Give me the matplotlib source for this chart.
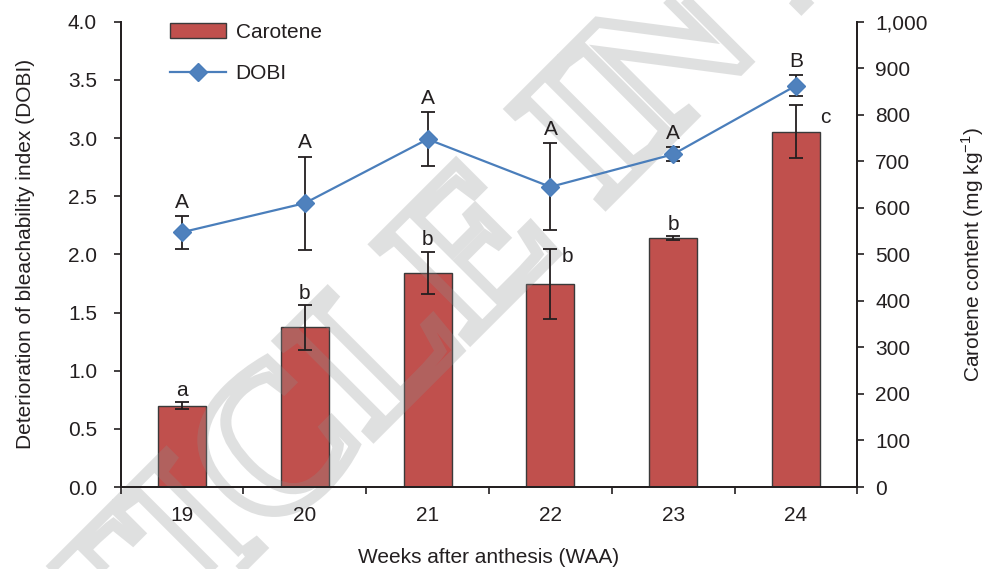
import matplotlib
matplotlib.use("Agg")
import matplotlib.pyplot as plt
import matplotlib.transforms as mtransforms
from matplotlib.textpath import TextPath
from matplotlib.font_manager import FontProperties
from matplotlib.patches import PathPatch
from matplotlib.ticker import FuncFormatter
import numpy as np

plt.rcParams['font.family'] = ['Liberation Sans', 'DejaVu Sans']
plt.rcParams['mathtext.fontset'] = 'custom'
plt.rcParams['mathtext.rm'] = 'Liberation Sans'
plt.rcParams['font.size'] = 15

# data
weeks = ['19', '20', '21', '22', '23', '24']
carotene = [175, 343, 460, 436, 535, 763]
carotene_err = [8, 48, 46, 75, 4, 57]
carotene_letters = ['a', 'b', 'b', 'b', 'b', 'c']
dobi = [2.19, 2.44, 2.99, 2.58, 2.86, 3.45]
dobi_err = [0.14, 0.40, 0.23, 0.375, 0.06, 0.093]
dobi_letters = ['A', 'A', 'A', 'A', 'A', 'B']

dark = '#231f20'
bar_col = '#c0504d'
line_col = '#4a7ebb'

fig = plt.figure(figsize=(9.87, 5.69), dpi=100)
ax = fig.add_axes([0.1223, 0.1441, 0.7463, 0.8178])   # DOBI (left axis)
ax2 = ax.twinx()                                       # carotene (right axis)
ax.set_zorder(ax2.get_zorder() + 1)
ax.patch.set_visible(False)

x = np.arange(len(weeks))

bars = ax2.bar(x, carotene, width=0.39, color=bar_col, edgecolor='#3a3a3a',
               linewidth=1.0, zorder=2, label='Carotene')
ax2.errorbar(x, carotene, yerr=carotene_err, fmt='none', ecolor=dark,
             elinewidth=1.3, capsize=5, capthick=1.3, zorder=6)

ax.errorbar(x, dobi, yerr=dobi_err, fmt='none', ecolor=dark,
            elinewidth=1.3, capsize=5, capthick=1.3, zorder=3)
line, = ax.plot(x, dobi, color=line_col, lw=1.6, marker='D', markersize=9.5,
                markerfacecolor='#4f81bd', markeredgecolor='#4a7ebb',
                zorder=4, label='DOBI')

# significance letters
for i in range(len(weeks)):
    ax.annotate(dobi_letters[i], (x[i], dobi[i] + dobi_err[i]),
                xytext=(0, 6), textcoords='offset points',
                ha='center', va='baseline', color=dark, fontsize=15)
for i in range(len(weeks)):
    top = carotene[i] + carotene_err[i]
    if i == 3:
        off = (12, -9)
    elif i == 5:
        off = (21, -13)
    else:
        off = (0, 4.5)
    ax2.annotate(carotene_letters[i], (x[i], top), xytext=off,
                 textcoords='offset points', ha='center', va='baseline',
                 color=dark, fontsize=15, zorder=7)

ax.set_xlim(-0.5, len(weeks) - 0.5)
ax.set_ylim(0, 4)
ax2.set_ylim(0, 1000)
ax.set_yticks(np.arange(0, 4.01, 0.5))
ax.yaxis.set_major_formatter(FuncFormatter(lambda v, p: '%.1f' % v))
ax2.set_yticks(np.arange(0, 1001, 100))
ax2.yaxis.set_major_formatter(FuncFormatter(lambda v, p: '{:,}'.format(int(v))))

ax.set_xticks(np.arange(-0.5, len(weeks), 1.0))
ax.set_xticklabels([])
ax.set_xticks(x, minor=True)
ax.set_xticklabels(weeks, minor=True)
ax.tick_params(axis='x', which='major', direction='out', length=5, width=1.2,
               color=dark)
ax.tick_params(axis='x', which='minor', length=0, pad=14, labelcolor=dark,
               labelsize=15)
ax.tick_params(axis='y', direction='out', length=5, width=1.2, pad=12,
               color=dark, labelcolor=dark, labelsize=15)
ax2.tick_params(axis='y', direction='out', length=5, width=1.2, pad=8,
                color=dark, labelcolor=dark, labelsize=15)

for a in (ax, ax2):
    a.spines['top'].set_visible(False)
    for s in ('left', 'right', 'bottom'):
        a.spines[s].set_color(dark)
        a.spines[s].set_linewidth(1.3)

ax.set_xlabel('Weeks after anthesis (WAA)', color=dark, fontsize=15)
ax.xaxis.set_label_coords(0.5, -0.131)
ax.set_ylabel('Deterioration of bleachability index (DOBI)', color=dark,
              fontsize=15)
ax.yaxis.set_label_coords(-0.117, 0.5)
ax2.set_ylabel(r'Carotene content (mg kg$^{\mathregular{-1}}$)', color=dark,
               fontsize=15, rotation=90)
ax2.yaxis.set_label_coords(1.138, 0.5)

leg = ax.legend([bars, line], ['Carotene', 'DOBI'], loc='upper left',
                bbox_to_anchor=(0.067, 0.997), frameon=False, borderpad=0,
                borderaxespad=0, handlelength=2.7, handletextpad=0.45,
                labelspacing=1.05, numpoints=1, fontsize=15)
for t in leg.get_texts():
    t.set_color(dark)

# "ARTICLE IN PRESS" watermark
fp = FontProperties(family='Liberation Serif', weight='bold')
wm_size = 205
wm_path = TextPath((0, 0), 'ARTICLE IN PRESS', size=wm_size, prop=fp)
x_a = TextPath((0, 0), 'ARTI', size=wm_size, prop=fp).get_extents().x1
x_c = TextPath((0, 0), 'ARTIC', size=wm_size, prop=fp).get_extents().x1
c_h = TextPath((0, 0), 'C', size=wm_size, prop=fp).get_extents().height
tr = (mtransforms.Affine2D().translate(-(x_a + x_c) / 2, -c_h / 2)
      .rotate_deg(45).translate(262, 569 - 450))
wm = PathPatch(wm_path, transform=tr, facecolor='none',
               edgecolor=(0.55, 0.56, 0.56, 0.27), lw=8, zorder=5)
wm.set_clip_on(False)
ax2.add_artist(wm)

fig.savefig('out.png', dpi=100)
